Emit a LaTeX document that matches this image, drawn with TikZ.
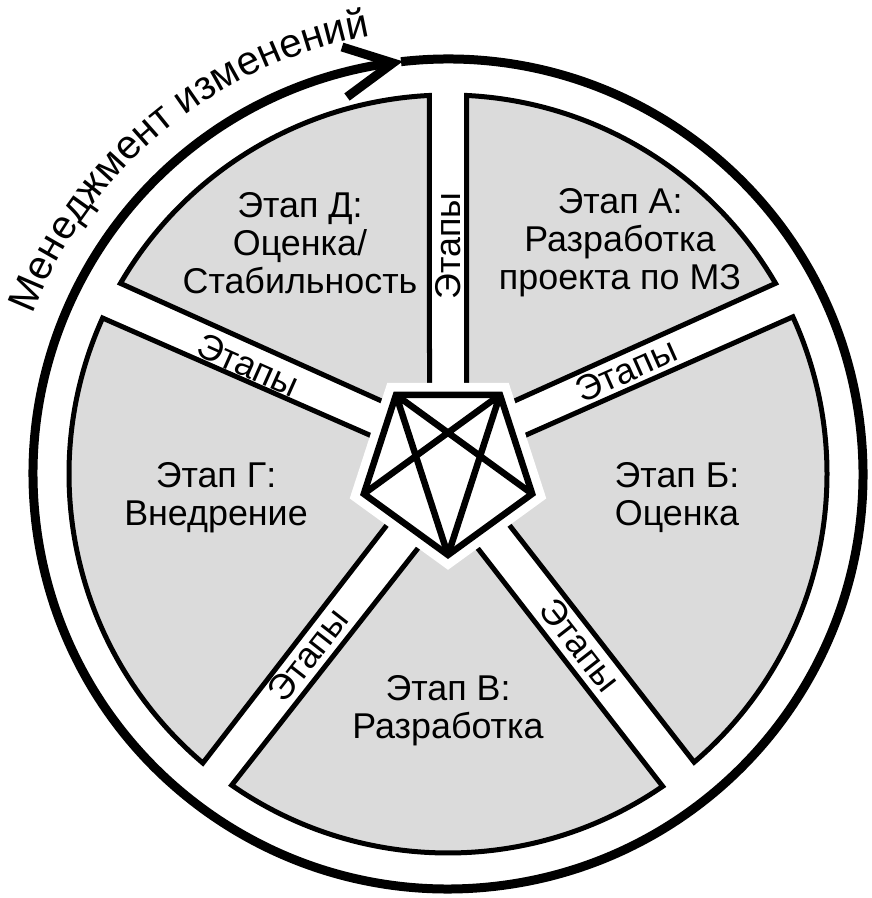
\documentclass[tikz,border=0pt]{standalone}
\usepackage{fontspec}
\setmainfont{Liberation Sans}
\usetikzlibrary{decorations.text}

\begin{document}
\begin{tikzpicture}[
    x=0.2mm, y=0.2mm,
    sector/.style={draw=black, fill=black!14, line width=1mm, line join=miter},
    ring/.style={line width=1.8mm},
    stage/.style={align=center, font=\fontsize{20.4}{21.6}\selectfont},
    band/.style={font=\fontsize{20.4}{24}\selectfont, inner sep=0pt},
    halo/.style={draw=white, fill=white, line width=4.8mm, line join=miter},
    pent/.style={draw=black, line width=1.3mm, line join=miter}
]
\useasboundingbox (-448,-424) rectangle (424,474);

% outer ring with arrow
\draw[ring] (96.5:415) arc[start angle=96.5, end angle=-261, radius=415];
\coordinate (tip) at (-55,411);
\draw[ring, line join=miter] (-106,427) -- (tip) -- (-101,377);
\path[decorate, decoration={text along path, text align=center,
    text={|\fontsize{23}{27}\selectfont|Менеджмент изменений}}]
    (162:445) arc[start angle=162, end angle=97, radius=445];

% sectors
\draw[sector] (18.5,34) -- (87.2:379) arc[start angle=87.2, end angle=30.2, radius=379] -- (42,62) -- cycle;
\draw[sector] (42,23) -- (24.5:379) arc[start angle=24.5, end angle=-49.5, radius=379] -- (34,-16) -- cycle;
\draw[sector] (0,-36) -- (-55.5:379) arc[start angle=-55.5, end angle=-124.8, radius=379] -- cycle;
\draw[sector] (-34,-16) -- (229.7:379) arc[start angle=229.7, end angle=155.7, radius=379] -- (-42,23) -- cycle;
\draw[sector] (-42,62) -- (149.8:379) arc[start angle=149.8, end angle=92.8, radius=379] -- (-18.5,34) -- cycle;

% pentagon
\foreach \a/\n in {126/tl,54/tr,-18/r,-90/b,198/l}
    \coordinate (p\n) at ([shift={(0,7.5)}]\a:88.5);
\draw[halo] (ptl) -- (ptr) -- (pr) -- (pb) -- (pl) -- cycle;
\draw[pent] (ptl) -- (ptr) -- (pr) -- (pb) -- (pl) -- cycle;
\draw[pent] (ptl) -- (pr) (ptl) -- (pb) (ptr) -- (pl) (ptr) -- (pb);

% band labels
\node[band, rotate=90] (e1) at (0,228) {Этапы};
\node[band, rotate=24] (e2) at (178,104) {Этапы};
\node[band, rotate=-52] (e3) at (132,-171) {Этапы};
\node[band, rotate=52] (e4) at (-140,-181) {Этапы};
\node[band, rotate=-24] (e5) at (-200,109) {Этапы};

% stages
\node[stage] (sA) at (172,231) {Этап А:\\Разработка\\проекта по МЗ};
\node[stage] (sB) at (229,-24) {Этап Б:\\Оценка};
\node[stage] (sV) at (0,-237) {Этап В:\\Разработка};
\node[stage] (sG) at (-232,-24) {Этап Г:\\Внедрение};
\node[stage] (sD) at (-148,231) {Этап Д:\\Оценка/\\Стабильность};
\end{tikzpicture}
\end{document}
